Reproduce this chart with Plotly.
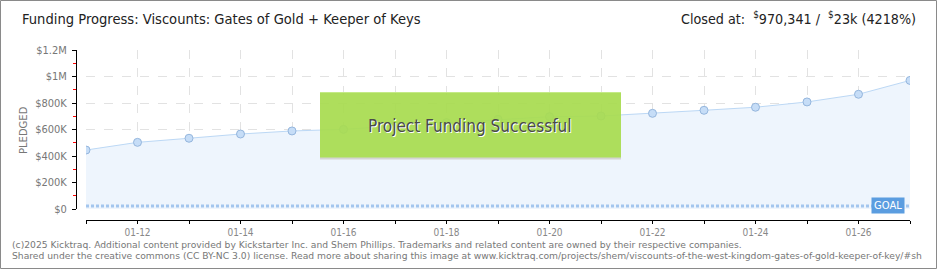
import plotly.graph_objects as go

# ---- data ----
dates = ["2025-01-11", "2025-01-12", "2025-01-13", "2025-01-14", "2025-01-15",
         "2025-01-16", "2025-01-17", "2025-01-18", "2025-01-19", "2025-01-20",
         "2025-01-21", "2025-01-22", "2025-01-23", "2025-01-24", "2025-01-25",
         "2025-01-26", "2025-01-27"]
pledged = [445000, 503000, 534000, 566000, 589000,
           601000, 627000, 652000, 677000, 697000,
           702000, 722000, 745000, 768000, 808000,
           866000, 970341]
goal = 23000
x_label_dates = ["2025-01-12", "2025-01-14", "2025-01-16", "2025-01-18",
                 "2025-01-20", "2025-01-22", "2025-01-24", "2025-01-26"]
x_tick_labels = ["01-12", "01-14", "01-16", "01-18",
                 "01-20", "01-22", "01-24", "01-26"]
x_minor_dates = ["2025-01-11", "2025-01-13", "2025-01-15", "2025-01-17",
                 "2025-01-19", "2025-01-21", "2025-01-23", "2025-01-25",
                 "2025-01-27"]
y_tick_vals = [0, 200000, 400000, 600000, 800000, 1000000, 1200000]
y_tick_labels = ["$0", "$200K", "$400K", "$600K", "$800K", "$1M", "$1.2M"]
y_minor_vals = [100000, 300000, 500000, 700000, 900000, 1100000]

W, H = 940, 270
ML, MR, MT, MB = 76, 30, 50, 50
PW, PH = W - ML - MR, H - MT - MB


def px(x):
    return (x - ML) / PW


def py(y):
    return (H - MB - y) / PH


NARROW = "DejaVu Sans Condensed, sans-serif"
SANS = "DejaVu Sans, Verdana, sans-serif"
GRID = "#e2e2e2"

fig = go.Figure()

fig.add_trace(go.Scatter(
    x=dates, y=pledged, mode="lines+markers",
    fill="tozeroy", fillcolor="#eef5fd",
    line=dict(color="#bcd8f5", width=1),
    marker=dict(size=8, color="#c6ddf7", line=dict(color="#95b6dd", width=1)),
    hoverinfo="skip", showlegend=False,
))

fig.add_trace(go.Scatter(
    x=[dates[0], dates[-1]], y=[goal, goal], mode="lines",
    line=dict(color="#a3c6ee", width=3, dash="3px,2px"),
    hoverinfo="skip", showlegend=False,
))

fig.update_layout(
    width=W, height=H,
    margin=dict(l=ML, r=MR, t=MT, b=MB),
    paper_bgcolor="white", plot_bgcolor="white",
    xaxis=dict(
        type="date", range=[dates[0], dates[-1]],
        domain=[10 / PW, 1], anchor="free", position=0,
        tickvals=x_label_dates, ticktext=x_tick_labels,
        showline=True, linecolor="black", linewidth=1,
        ticks="outside", ticklen=3, tickcolor="black",
        showgrid=True, gridcolor=GRID, griddash="dash", gridwidth=1,
        tickfont=dict(family=NARROW, size=10, color="#888"),
        minor=dict(tickvals=x_minor_dates, ticks="outside", ticklen=3,
                   tickcolor="black", showgrid=True, gridcolor=GRID,
                   griddash="dash", gridwidth=1),
        zeroline=False,
    ),
    yaxis=dict(
        range=[0, 1200000],
        domain=[11 / PH, 1], anchor="free", position=0,
        tickvals=y_tick_vals, ticktext=y_tick_labels,
        showline=True, linecolor="black", linewidth=1,
        ticks="outside", ticklen=4, tickcolor="black",
        showgrid=True, gridcolor=GRID, griddash="dash", gridwidth=1,
        tickfont=dict(family=NARROW, size=11, color="#777"),
        ticklabelstandoff=3,
        minor=dict(tickvals=y_minor_vals, ticks="outside", ticklen=3,
                   tickcolor="red", showgrid=False),
        zeroline=False,
    ),
)

shapes = []
# overall border
shapes.append(dict(type="rect", xref="paper", yref="paper",
                   x0=px(0.5), x1=px(936.5), y0=py(268.5), y1=py(0.5),
                   line=dict(color="#8a8a8a", width=1), fillcolor="rgba(0,0,0,0)",
                   layer="above"))
# success banner
shapes.append(dict(type="rect", xref="paper", yref="paper",
                   x0=px(320), x1=px(621), y0=py(158), y1=py(92),
                   line=dict(width=0), fillcolor="#a8dc50", opacity=0.93,
                   layer="above"))
shapes.append(dict(type="line", xref="paper", yref="paper",
                   x0=px(320), x1=px(621), y0=py(92.5), y1=py(92.5),
                   line=dict(color="#c4ea86", width=1), layer="above"))
shapes.append(dict(type="line", xref="paper", yref="paper",
                   x0=px(320), x1=px(621), y0=py(158.5), y1=py(158.5),
                   line=dict(color="#d4d4d4", width=2), layer="above"))
fig.update_layout(shapes=shapes)

ann = []
ann.append(dict(xref="paper", yref="paper", x=px(20), y=py(18),
                xanchor="left", yanchor="middle", showarrow=False,
                text="Funding Progress: Viscounts: Gates of Gold + Keeper of Keys",
                font=dict(family=NARROW, size=14.6, color="#222")))
ann.append(dict(xref="paper", yref="paper", x=px(918), y=py(18),
                xanchor="right", yanchor="middle", showarrow=False,
                text="Closed at:  <sup>$</sup>970,341 /  <sup>$</sup>23k (4218%)",
                font=dict(family=NARROW, size=14.2, color="#222")))
ann.append(dict(xref="paper", yref="paper", x=px(23), y=py(130),
                xanchor="center", yanchor="middle", showarrow=False,
                textangle=-90, text="PLEDGED",
                font=dict(family=SANS, size=10, color="#777")))
ann.append(dict(xref="paper", yref="paper", x=px(470), y=py(126),
                xanchor="center", yanchor="middle", showarrow=False,
                text="Project Funding Successful",
                font=dict(family=NARROW, size=17, color="#4a4a4a",
                          shadow="1px 1px 0px #ffffff")))
ann.append(dict(xref="paper", yref="y", x=px(888), y=goal,
                xanchor="center", yanchor="middle", showarrow=False,
                text="GOAL", bgcolor="#5b9de0", borderpad=2,
                font=dict(family=SANS, size=10, color="white")))
ann.append(dict(xref="paper", yref="paper", x=px(10), y=py(244),
                xanchor="left", yanchor="middle", showarrow=False,
                text="(c)2025 Kicktraq. Additional content provided by Kickstarter Inc. and Shem Phillips. Trademarks and related content are owned by their respective companies.",
                font=dict(family=SANS, size=9.2, color="#777")))
ann.append(dict(xref="paper", yref="paper", x=px(10), y=py(256),
                xanchor="left", yanchor="middle", showarrow=False,
                text="Shared under the creative commons (CC BY-NC 3.0) license. Read more about sharing this image at www.kicktraq.com/projects/shem/viscounts-of-the-west-kingdom-gates-of-gold-keeper-of-key/#sh",
                font=dict(family=SANS, size=9.2, color="#777")))
fig.update_layout(annotations=ann)

fig.write_html("out.html")
